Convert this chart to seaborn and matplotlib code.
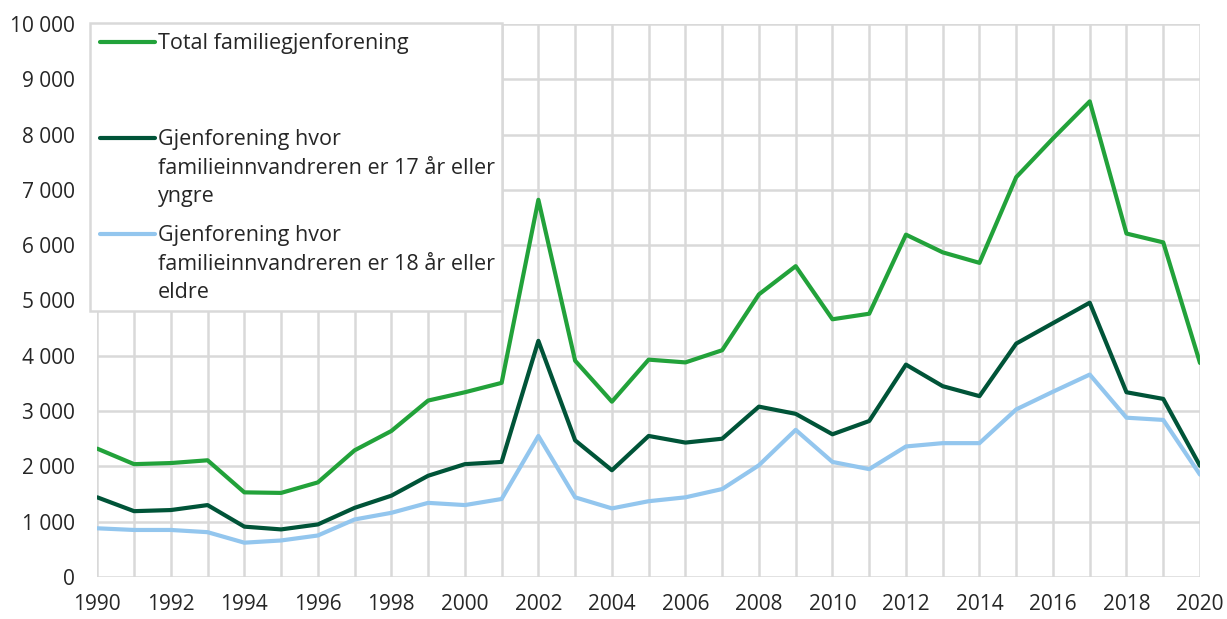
import pandas as pd
import matplotlib
matplotlib.use("Agg")
import matplotlib.pyplot as plt
import seaborn as sns
from matplotlib.lines import Line2D
from matplotlib.patches import Rectangle
from matplotlib.ticker import FuncFormatter, MultipleLocator

# Data
years = list(range(1990, 2021))
total = [2320, 2040, 2060, 2110, 1530, 1520, 1710, 2290, 2640, 3190,
         3340, 3510, 6820, 3910, 3170, 3930, 3880, 4100, 5110, 5620,
         4660, 4760, 6190, 5870, 5680, 7230, 7930, 8600, 6210, 6050, 3870]
under18 = [1440, 1190, 1210, 1300, 910, 860, 950, 1250, 1470, 1830,
           2040, 2080, 4270, 2470, 1930, 2550, 2430, 2500, 3080, 2950,
           2580, 2820, 3840, 3450, 3270, 4220, 4590, 4960, 3340, 3220, 2010]
over18 = [880, 850, 850, 810, 620, 660, 750, 1040, 1160, 1340,
          1300, 1410, 2550, 1440, 1240, 1370, 1440, 1590, 2020, 2660,
          2080, 1950, 2360, 2420, 2420, 3030, 3350, 3660, 2880, 2840, 1850]

labels = ["Total familiegjenforening",
          "Gjenforening hvor\nfamilieinnvandreren er 17 år eller\nyngre",
          "Gjenforening hvor\nfamilieinnvandreren er 18 år eller\neldre"]
colors = ["#22a23a", "#005438", "#93c6ee"]

df = pd.DataFrame({"year": years * 3,
                   "value": total + under18 + over18,
                   "serie": [labels[0]] * len(years) + [labels[1]] * len(years) + [labels[2]] * len(years)})

sns.set_style("white")
plt.rcParams["font.family"] = ["Open Sans", "DejaVu Sans"]

fig = plt.figure(figsize=(12.27, 6.19), dpi=100)
ax = fig.add_axes([0.0793, 0.0679, 0.8987, 0.8934])

sns.lineplot(data=df, x="year", y="value", hue="serie", hue_order=labels,
             palette=colors, linewidth=3, legend=False, ax=ax, zorder=3)

ax.set_xlim(1990, 2020)
ax.set_ylim(0, 10000)
ax.xaxis.set_major_locator(MultipleLocator(2))
ax.xaxis.set_minor_locator(MultipleLocator(1))
ax.yaxis.set_major_locator(MultipleLocator(1000))
ax.yaxis.set_major_formatter(FuncFormatter(lambda v, p: f"{int(v):,}".replace(",", " ")))
ax.grid(True, which="both", color="#d9d9d9", linewidth=1.8, zorder=0)
ax.set_axisbelow(True)
for s in ax.spines.values():
    s.set_visible(False)
ax.tick_params(axis="both", which="both", length=0, labelsize=15, colors="#262626")
ax.tick_params(axis="y", pad=16)
ax.tick_params(axis="x", pad=12)
ax.set_xlabel("")
ax.set_ylabel("")

# legend box in the upper left, like the original
ax.add_patch(Rectangle((-0.0066, 0.481), 0.3736, 0.521, transform=ax.transAxes,
                       facecolor="white", edgecolor="#d9d9d9", linewidth=1.8,
                       zorder=5, clip_on=False))
entry_y = [0.9675, 0.7939, 0.6203]
line_step = 0.0515
for lab, col, y in zip(labels, colors, entry_y):
    ax.add_line(Line2D([0.0025, 0.0524], [y, y], transform=ax.transAxes,
                       color=col, linewidth=3, zorder=6, clip_on=False))
    # one text per line so the handle sits on the first line
    for i, part in enumerate(lab.split("\n")):
        ax.text(0.055, y - 0.0132 - i * line_step, part, transform=ax.transAxes,
                fontsize=15.5, color="#262626", va="baseline", ha="left", zorder=6)

fig.savefig("out.png", dpi=100)
